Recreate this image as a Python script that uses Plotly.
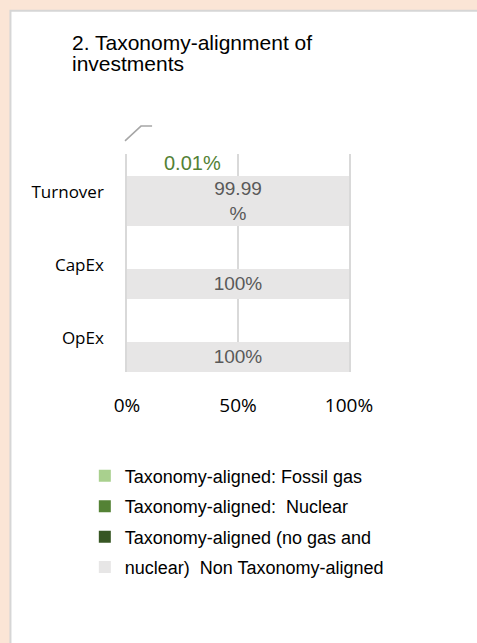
import plotly.graph_objects as go

categories = ["Turnover", "CapEx", "OpEx"]
fossil_gas = [0, 0, 0]
nuclear = [0, 0, 0]
aligned_other = [0.01, 0, 0]
non_aligned = [99.99, 100, 100]
non_aligned_labels = ["99.99<br>%", "100%", "100%"]
aligned_label = "0.01%"
x_ticks = [0, 50, 100]
x_tick_labels = ["0%", "50%", "100%"]

series_names = [
    "Taxonomy-aligned: Fossil gas",
    "Taxonomy-aligned:  Nuclear",
    "Taxonomy-aligned (no gas and",
    "nuclear)  Non Taxonomy-aligned",
]
colors = ["#A9D08E", "#548235", "#375623", "#E7E6E6"]
peach = "#FBE5D6"

bar_offsets = [-0.219, 0.055, 0.055]
bar_widths = [0.685, 0.41, 0.41]

fig = go.Figure()
for name, vals, col in zip(series_names[:3], [fossil_gas, nuclear, aligned_other], colors[:3]):
    fig.add_trace(go.Bar(
        y=categories, x=vals, orientation="h", name=name,
        marker=dict(color=col, line=dict(width=0)),
        offset=bar_offsets, width=bar_widths, legendgroup=name,
        hoverinfo="x+y",
    ))
fig.add_trace(go.Bar(
    y=categories, x=non_aligned, orientation="h", name=series_names[3],
    marker=dict(color=colors[3], line=dict(width=0)),
    offset=bar_offsets, width=bar_widths, legendgroup=series_names[3],
    text=non_aligned_labels, textposition="inside", insidetextanchor="middle",
    constraintext="none",
    textfont=dict(family="Liberation Sans, Arial", size=19, color="#595959"),
))

fig.add_annotation(
    x=aligned_other[0], y=categories[0], xref="x", yref="y",
    text=aligned_label, showarrow=False, xanchor="center", yanchor="middle",
    xshift=65, yshift=29,
    font=dict(family="Liberation Sans, Arial", size=20, color="#538135"),
)

# title lines
fig.add_annotation(x=-0.258, y=1.51, xref="paper", yref="paper", xanchor="left", yanchor="middle",
                   text="2. Taxonomy-alignment of", showarrow=False,
                   font=dict(family="Liberation Sans, Arial", size=21, color="#000000"))
fig.add_annotation(x=-0.258, y=1.414, xref="paper", yref="paper", xanchor="left", yanchor="middle",
                   text="investments", showarrow=False,
                   font=dict(family="Liberation Sans, Arial", size=21, color="#000000"))

# peach surround (top and left strips) and panel border
fig.add_shape(type="rect", xref="paper", yref="paper", x0=-0.58, x1=1.58, y0=1.657, y1=1.72,
              fillcolor=peach, line=dict(width=0), layer="below")
fig.add_shape(type="rect", xref="paper", yref="paper", x0=-0.58, x1=-0.525, y0=-1.26, y1=1.72,
              fillcolor=peach, line=dict(width=0), layer="below")
fig.add_shape(type="path", xref="paper", yref="paper",
              path="M -0.525 -1.26 L -0.525 1.657 L 1.58 1.657",
              line=dict(color="#D6D6D6", width=2), layer="below")
# leader line
fig.add_shape(type="path", xref="paper", yref="paper",
              path="M -0.009 1.06 L 0.063 1.128 L 0.113 1.128",
              line=dict(color="#A6A6A6", width=1.5), layer="above")

fig.update_layout(
    width=477, height=643,
    margin=dict(l=127, r=128, t=154, b=271),
    paper_bgcolor="#FFFFFF", plot_bgcolor="rgba(0,0,0,0)",
    barmode="overlay",
    showlegend=True,
    legend=dict(
        x=-0.19, y=-0.393, xanchor="left", yanchor="top",
        orientation="v", traceorder="grouped",
        font=dict(family="Liberation Sans, Arial", size=18, color="#000000"),
        bgcolor="rgba(0,0,0,0)", itemwidth=30, tracegroupgap=4,
    ),
    xaxis=dict(
        range=[0, 100], tickvals=x_ticks, ticktext=x_tick_labels,
        showgrid=True, gridcolor="#D9D9D9", gridwidth=1.5, zeroline=False,
        showline=False, ticks="", ticklabelstandoff=20,
        tickfont=dict(family="Open Sans", size=19, color="#000000"),
        fixedrange=True,
    ),
    yaxis=dict(
        range=[2.466, -0.52], showgrid=False, zeroline=False,
        showline=True, mirror=True, linecolor="#D9D9D9", linewidth=1.5,
        ticks="", ticklabelstandoff=18,
        tickfont=dict(family="Open Sans", size=17, color="#000000"),
        fixedrange=True,
    ),
)

fig.write_html(
    "out.html",
    config={"displayModeBar": False},
    post_script="document.body.style.margin='0';document.body.style.overflow='hidden';",
)
